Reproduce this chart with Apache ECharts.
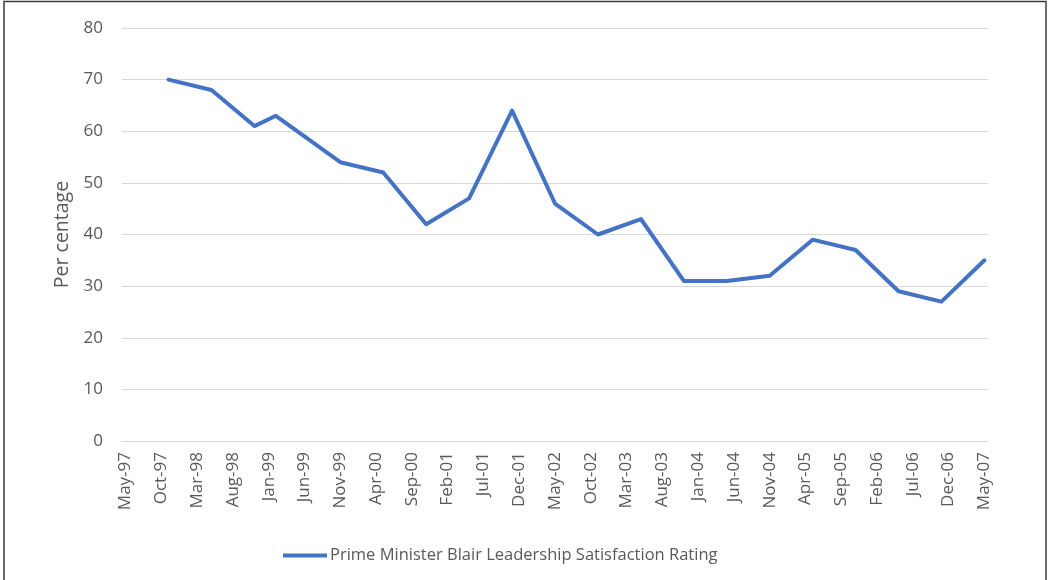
<!DOCTYPE html>
<html>
<head>
<meta charset="utf-8">
<style>
  html, body { margin: 0; padding: 0; background: #ffffff; }
  #chart { width: 1048px; height: 580px; }
</style>
<script src="https://cdn.jsdelivr.net/npm/echarts@6/dist/echarts.min.js"></script>
</head>
<body>
<div id="chart"></div>
<script>
// Survey dates (Mon-YY) and satisfaction ratings (%)
const surveyDates = ['Nov-97', 'May-98', 'Nov-98', 'Feb-99', 'Nov-99', 'May-00', 'Nov-00', 'May-01',
  'Nov-01', 'May-02', 'Nov-02', 'May-03', 'Nov-03', 'May-04', 'Nov-04', 'May-05', 'Nov-05', 'May-06',
  'Nov-06', 'May-07'];
const satisfaction = [70, 68, 61, 63, 54, 52, 42, 47, 64, 46, 40, 43, 31, 31, 32, 39, 37, 29, 27, 35];

// Date axis labels, one every five months starting May-97
const tickLabels = ['May-97', 'Oct-97', 'Mar-98', 'Aug-98', 'Jan-99', 'Jun-99', 'Nov-99', 'Apr-00',
  'Sep-00', 'Feb-01', 'Jul-01', 'Dec-01', 'May-02', 'Oct-02', 'Mar-03', 'Aug-03', 'Jan-04', 'Jun-04',
  'Nov-04', 'Apr-05', 'Sep-05', 'Feb-06', 'Jul-06', 'Dec-06', 'May-07'];
const tickStep = 5;

const seriesName = 'Prime Minister Blair Leadership Satisfaction Rating';

const MONTHS = ['Jan', 'Feb', 'Mar', 'Apr', 'May', 'Jun', 'Jul', 'Aug', 'Sep', 'Oct', 'Nov', 'Dec'];
// Months elapsed since the first axis label (May-97)
function monthIndex(label) {
  const [mon, yy] = label.split('-');
  const yr = Number(yy) < 50 ? 2000 + Number(yy) : 1900 + Number(yy);
  const base = 1997 * 12 + 4;
  return yr * 12 + MONTHS.indexOf(mon) - base;
}

const points = surveyDates.map((d, i) => [monthIndex(d), satisfaction[i]]);
const tickValues = tickLabels.map((_, i) => i * tickStep);
const lastMonth = tickValues[tickValues.length - 1];

const textColor = '#595959';
const gridColor = '#d9d9d9';
const font = '"Open Sans", "Noto Sans", sans-serif';

const chart = echarts.init(document.getElementById('chart'), null, { renderer: 'canvas' });
chart.setOption({
  backgroundColor: '#ffffff',
  animation: false,
  textStyle: { fontFamily: font },
  grid: { left: 122, right: 60, top: 28, bottom: 139, containLabel: false },
  xAxis: {
    type: 'value',
    min: -0.5,
    max: lastMonth + 0.5,
    axisLine: { show: true, lineStyle: { color: gridColor, width: 1 } },
    axisTick: { show: false },
    splitLine: { show: false },
    axisLabel: {
      customValues: tickValues,
      rotate: 90,
      margin: 11,
      color: textColor,
      fontSize: 17,
      fontFamily: font,
      formatter: (v) => tickLabels[Math.round(v / tickStep)]
    }
  },
  yAxis: {
    type: 'value',
    min: 0,
    max: 80,
    interval: 10,
    name: 'Per centage',
    nameLocation: 'middle',
    nameGap: 49,
    nameRotate: 90,
    nameTextStyle: { color: textColor, fontSize: 19.5, fontFamily: font },
    axisLine: { show: false },
    axisTick: { show: false },
    splitLine: { show: true, lineStyle: { color: gridColor, width: 1 } },
    axisLabel: { color: textColor, fontSize: 17, margin: 19, fontFamily: font }
  },
  legend: {
    left: 278,
    top: 542,
    icon: 'rect',
    itemWidth: 44,
    itemHeight: 4,
    itemGap: 10,
    textStyle: { color: textColor, fontSize: 16.5, fontFamily: font, padding: [0, 0, 0, -2] },
    data: [seriesName]
  },
  graphic: [{
    type: 'rect',
    silent: true,
    shape: { x: 4, y: 1.5, width: 1042, height: 600 },
    style: { fill: 'none', stroke: '#3a3a3a', lineWidth: 1.5 }
  }],
  series: [{
    name: seriesName,
    type: 'line',
    data: points,
    showSymbol: false,
    symbol: 'none',
    lineStyle: { color: '#4472C4', width: 4, join: 'round', cap: 'round' },
    itemStyle: { color: '#4472C4' }
  }]
});
</script>
</body>
</html>
